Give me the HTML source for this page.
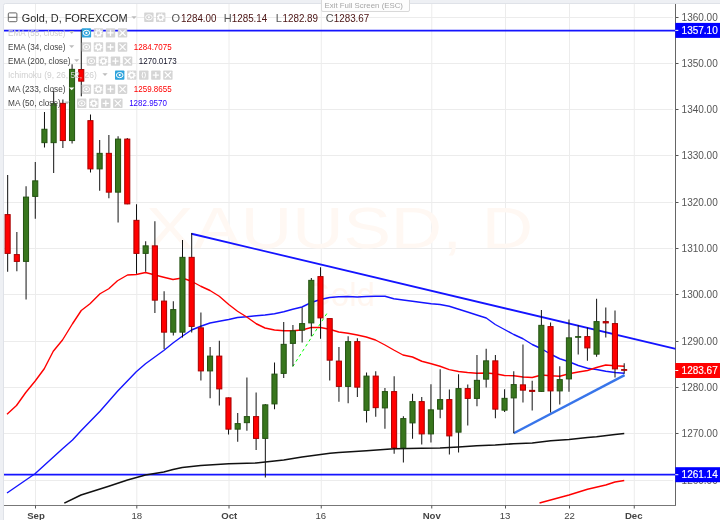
<!DOCTYPE html>
<html lang="en">
<head>
<meta charset="utf-8">
<title>Gold, D, FOREXCOM</title>
<style>
html,body{margin:0;padding:0;background:#fff;overflow:hidden}
body{width:720px;height:520px}
svg{display:block;font-family:"Liberation Sans",sans-serif}
</style>
</head>
<body>
<svg width="720" height="520" viewBox="0 0 720 520">
<rect x="0" y="0" width="720" height="520" fill="#eef0f4"/>
<rect x="3.5" y="3.5" width="720" height="520" rx="2" fill="#ffffff" stroke="#dfe2e8" stroke-width="1"/>
<line x1="35.5" y1="4" x2="35.5" y2="505" stroke="#ececec" stroke-width="1"/>
<line x1="136.8" y1="4" x2="136.8" y2="505" stroke="#ececec" stroke-width="1"/>
<line x1="229" y1="4" x2="229" y2="505" stroke="#ececec" stroke-width="1"/>
<line x1="321.25" y1="4" x2="321.25" y2="505" stroke="#ececec" stroke-width="1"/>
<line x1="431.75" y1="4" x2="431.75" y2="505" stroke="#ececec" stroke-width="1"/>
<line x1="505.5" y1="4" x2="505.5" y2="505" stroke="#ececec" stroke-width="1"/>
<line x1="569.5" y1="4" x2="569.5" y2="505" stroke="#ececec" stroke-width="1"/>
<line x1="634.25" y1="4" x2="634.25" y2="505" stroke="#ececec" stroke-width="1"/>
<line x1="4" y1="480.50" x2="673" y2="480.50" stroke="#ececec" stroke-width="1"/>
<line x1="4" y1="433.50" x2="673" y2="433.50" stroke="#ececec" stroke-width="1"/>
<line x1="4" y1="387.50" x2="673" y2="387.50" stroke="#ececec" stroke-width="1"/>
<line x1="4" y1="341.50" x2="673" y2="341.50" stroke="#ececec" stroke-width="1"/>
<line x1="4" y1="294.50" x2="673" y2="294.50" stroke="#ececec" stroke-width="1"/>
<line x1="4" y1="248.50" x2="673" y2="248.50" stroke="#ececec" stroke-width="1"/>
<line x1="4" y1="202.50" x2="673" y2="202.50" stroke="#ececec" stroke-width="1"/>
<line x1="4" y1="155.50" x2="673" y2="155.50" stroke="#ececec" stroke-width="1"/>
<line x1="4" y1="109.50" x2="673" y2="109.50" stroke="#ececec" stroke-width="1"/>
<line x1="4" y1="63.50" x2="673" y2="63.50" stroke="#ececec" stroke-width="1"/>
<line x1="4" y1="17.50" x2="673" y2="17.50" stroke="#ececec" stroke-width="1"/>
<text x="339.5" y="247.5" font-size="57" text-anchor="middle" textLength="387" lengthAdjust="spacingAndGlyphs" fill="#fff8f3">XAUUSD, D</text>
<text x="340" y="306" font-size="33" text-anchor="middle" fill="#fff6f0">Gold</text>
<line x1="675.5" y1="4" x2="675.5" y2="505.5" stroke="#666" stroke-width="1"/>
<line x1="4" y1="505.5" x2="676" y2="505.5" stroke="#777" stroke-width="1"/>
<line x1="35.5" y1="505.5" x2="35.5" y2="508.5" stroke="#555" stroke-width="1"/>
<line x1="136.8" y1="505.5" x2="136.8" y2="508.5" stroke="#555" stroke-width="1"/>
<line x1="229" y1="505.5" x2="229" y2="508.5" stroke="#555" stroke-width="1"/>
<line x1="321.25" y1="505.5" x2="321.25" y2="508.5" stroke="#555" stroke-width="1"/>
<line x1="431.75" y1="505.5" x2="431.75" y2="508.5" stroke="#555" stroke-width="1"/>
<line x1="505.5" y1="505.5" x2="505.5" y2="508.5" stroke="#555" stroke-width="1"/>
<line x1="569.5" y1="505.5" x2="569.5" y2="508.5" stroke="#555" stroke-width="1"/>
<line x1="634.25" y1="505.5" x2="634.25" y2="508.5" stroke="#555" stroke-width="1"/>
<g font-size="10" fill="#555">
<line x1="676" y1="480.50" x2="678.5" y2="480.50" stroke="#555" stroke-width="1"/>
<text x="681.6" y="484.10">1260.00</text>
<line x1="676" y1="433.50" x2="678.5" y2="433.50" stroke="#555" stroke-width="1"/>
<text x="681.6" y="437.10">1270.00</text>
<line x1="676" y1="387.50" x2="678.5" y2="387.50" stroke="#555" stroke-width="1"/>
<text x="681.6" y="391.10">1280.00</text>
<line x1="676" y1="341.50" x2="678.5" y2="341.50" stroke="#555" stroke-width="1"/>
<text x="681.6" y="345.10">1290.00</text>
<line x1="676" y1="294.50" x2="678.5" y2="294.50" stroke="#555" stroke-width="1"/>
<text x="681.6" y="298.10">1300.00</text>
<line x1="676" y1="248.50" x2="678.5" y2="248.50" stroke="#555" stroke-width="1"/>
<text x="681.6" y="252.10">1310.00</text>
<line x1="676" y1="202.50" x2="678.5" y2="202.50" stroke="#555" stroke-width="1"/>
<text x="681.6" y="206.10">1320.00</text>
<line x1="676" y1="155.50" x2="678.5" y2="155.50" stroke="#555" stroke-width="1"/>
<text x="681.6" y="159.10">1330.00</text>
<line x1="676" y1="109.50" x2="678.5" y2="109.50" stroke="#555" stroke-width="1"/>
<text x="681.6" y="113.10">1340.00</text>
<line x1="676" y1="63.50" x2="678.5" y2="63.50" stroke="#555" stroke-width="1"/>
<text x="681.6" y="67.10">1350.00</text>
<line x1="676" y1="17.50" x2="678.5" y2="17.50" stroke="#555" stroke-width="1"/>
<text x="681.6" y="21.10">1360.00</text>
</g>
<g font-size="9.6" fill="#444" text-anchor="middle">
<text x="36" y="518.8" font-weight="bold">Sep</text>
<text x="136.75" y="518.8">18</text>
<text x="229.25" y="518.8" font-weight="bold">Oct</text>
<text x="320.75" y="518.8">16</text>
<text x="431.75" y="518.8" font-weight="bold">Nov</text>
<text x="505" y="518.8">13</text>
<text x="569.5" y="518.8">22</text>
<text x="633.75" y="518.8" font-weight="bold">Dec</text>
</g>
<defs><clipPath id="plot"><rect x="4" y="4" width="671.5" height="501"/></clipPath></defs>
<g clip-path="url(#plot)">
<line x1="4" y1="30.6" x2="676" y2="30.6" stroke="#1414ff" stroke-width="1.6"/>
<line x1="4" y1="474.6" x2="676" y2="474.6" stroke="#1414ff" stroke-width="1.6"/>
<polyline points="7.00,493.00 35.00,473.75 62.50,448.75 72.50,440.00 81.25,430.50 100.00,411.25 117.50,391.25 136.25,371.75 145.50,363.75 163.75,350.50 173.00,343.00 182.25,336.25 191.50,330.00 200.75,326.25 210.00,323.00 219.25,321.25 228.75,319.50 237.50,317.50 246.75,316.75 256.25,315.75 265.00,315.00 274.50,313.75 283.75,311.75 292.75,309.25 302.00,307.00 311.25,302.50 320.50,299.50 329.50,297.50 338.75,296.75 348.00,296.50 357.25,297.00 366.25,296.50 375.50,296.25 385.00,296.25 393.75,298.75 403.00,300.00 412.50,301.25 421.75,302.50 431.25,303.75 440.00,304.50 449.25,306.25 458.75,309.25 467.50,312.00 476.75,315.00 486.25,318.00 495.25,324.50 504.50,329.50 513.75,334.50 523.00,338.75 532.25,344.50 541.50,348.75 550.75,354.25 559.75,358.75 569.00,361.75 578.25,365.50 587.50,368.25 596.50,369.50 605.75,371.25 615.00,372.50 624.25,373.25" fill="none" stroke="#1414ff" stroke-width="1.4" stroke-linejoin="round" />
<polyline points="7.00,414.25 16.50,405.50 25.75,392.50 35.00,381.25 44.25,368.75 53.25,351.25 62.50,340.00 72.50,323.75 81.25,310.50 90.00,303.75 100.00,293.75 108.75,288.75 117.50,280.75 127.50,275.00 136.25,274.50 145.50,272.50 155.00,275.00 163.75,277.25 173.00,279.50 182.25,278.00 191.50,281.25 200.75,286.25 210.00,290.50 219.25,296.25 228.75,304.50 237.50,311.25 246.75,317.00 256.25,323.75 265.00,328.00 274.50,330.00 283.75,330.75 292.75,330.75 302.00,330.00 311.25,327.50 320.50,327.50 329.50,329.25 338.75,332.00 348.00,333.25 357.25,335.00 366.25,337.00 375.50,340.00 385.00,345.00 393.75,350.00 403.00,355.00 412.50,357.00 421.75,361.25 431.25,363.75 440.00,366.25 449.25,369.60 458.50,371.50 467.50,372.50 476.75,373.25 486.25,373.00 495.25,373.75 504.50,375.50 513.75,375.75 523.00,377.00 532.25,377.50 541.50,375.00 550.75,375.75 559.75,376.25 569.00,373.75 578.25,372.00 587.50,370.50 596.50,367.50 605.75,365.00 615.00,365.75 624.25,366.25" fill="none" stroke="#ff0000" stroke-width="1.4" stroke-linejoin="round" />
<polyline points="64.30,503.10 81.00,495.00 108.75,486.25 127.50,480.00 145.50,475.00 163.75,472.00 173.00,469.50 182.25,467.50 200.75,465.50 228.75,463.75 256.00,463.00 265.25,462.00 283.75,460.00 302.00,457.00 330.00,453.25 338.75,452.50 366.50,450.75 394.00,448.75 421.50,448.25 440.00,448.00 458.50,447.00 476.75,445.75 495.25,445.00 513.75,443.75 532.25,443.00 550.75,440.75 569.00,439.50 587.50,437.50 596.50,436.75 615.00,434.50 624.25,433.50" fill="none" stroke="#111111" stroke-width="1.6" stroke-linejoin="round" />
<polyline points="539.50,503.00 559.75,497.50 569.00,495.00 587.50,489.25 605.75,485.00 615.00,482.00 624.25,480.50" fill="none" stroke="#ff0000" stroke-width="1.5" stroke-linejoin="round" />
<line x1="191.5" y1="233.75" x2="675.7" y2="348.9" stroke="#1414ff" stroke-width="1.8"/>
<line x1="513.75" y1="433.25" x2="624.6" y2="375.1" stroke="#3875ea" stroke-width="2.4"/>
<line x1="292.7" y1="366.6" x2="328.3" y2="311.25" stroke="#00ff00" stroke-width="1" stroke-dasharray="3,3"/>
<line x1="7.67" y1="175.00" x2="7.67" y2="271.75" stroke="#111" stroke-width="1"/>
<rect x="5.07" y="214.60" width="5.1" height="38.80" fill="#ff0000" stroke="#a80000" stroke-width="1"/>
<line x1="16.87" y1="232.00" x2="16.87" y2="271.25" stroke="#111" stroke-width="1"/>
<rect x="14.27" y="254.60" width="5.1" height="6.80" fill="#ff0000" stroke="#a80000" stroke-width="1"/>
<line x1="26.07" y1="186.25" x2="26.07" y2="299.50" stroke="#111" stroke-width="1"/>
<rect x="23.47" y="197.10" width="5.1" height="64.30" fill="#38761d" stroke="#245212" stroke-width="1"/>
<line x1="35.28" y1="162.00" x2="35.28" y2="218.75" stroke="#111" stroke-width="1"/>
<rect x="32.68" y="180.85" width="5.1" height="15.55" fill="#38761d" stroke="#245212" stroke-width="1"/>
<line x1="44.48" y1="112.00" x2="44.48" y2="147.50" stroke="#111" stroke-width="1"/>
<rect x="41.88" y="129.25" width="5.1" height="13.40" fill="#38761d" stroke="#245212" stroke-width="1"/>
<line x1="53.68" y1="91.00" x2="53.68" y2="173.00" stroke="#111" stroke-width="1"/>
<rect x="51.08" y="103.65" width="5.1" height="39.00" fill="#38761d" stroke="#245212" stroke-width="1"/>
<line x1="62.88" y1="99.50" x2="62.88" y2="148.00" stroke="#111" stroke-width="1"/>
<rect x="60.28" y="103.35" width="5.1" height="37.20" fill="#ff0000" stroke="#a80000" stroke-width="1"/>
<line x1="72.08" y1="64.30" x2="72.08" y2="143.50" stroke="#111" stroke-width="1"/>
<rect x="69.48" y="69.35" width="5.1" height="71.20" fill="#38761d" stroke="#245212" stroke-width="1"/>
<line x1="81.29" y1="29.50" x2="81.29" y2="96.30" stroke="#111" stroke-width="1"/>
<rect x="78.69" y="69.55" width="5.1" height="11.60" fill="#ff0000" stroke="#a80000" stroke-width="1"/>
<line x1="90.49" y1="114.50" x2="90.49" y2="172.50" stroke="#111" stroke-width="1"/>
<rect x="87.89" y="120.65" width="5.1" height="48.25" fill="#ff0000" stroke="#a80000" stroke-width="1"/>
<line x1="99.69" y1="140.00" x2="99.69" y2="190.75" stroke="#111" stroke-width="1"/>
<rect x="97.09" y="153.35" width="5.1" height="15.55" fill="#38761d" stroke="#245212" stroke-width="1"/>
<line x1="108.89" y1="135.00" x2="108.89" y2="198.25" stroke="#111" stroke-width="1"/>
<rect x="106.29" y="153.35" width="5.1" height="38.80" fill="#ff0000" stroke="#a80000" stroke-width="1"/>
<line x1="118.09" y1="136.25" x2="118.09" y2="222.50" stroke="#111" stroke-width="1"/>
<rect x="115.49" y="139.10" width="5.1" height="53.05" fill="#38761d" stroke="#245212" stroke-width="1"/>
<line x1="127.30" y1="138.00" x2="127.30" y2="204.25" stroke="#111" stroke-width="1"/>
<rect x="124.70" y="139.10" width="5.1" height="64.80" fill="#ff0000" stroke="#a80000" stroke-width="1"/>
<line x1="136.50" y1="204.25" x2="136.50" y2="273.75" stroke="#111" stroke-width="1"/>
<rect x="133.90" y="220.35" width="5.1" height="33.05" fill="#ff0000" stroke="#a80000" stroke-width="1"/>
<line x1="145.70" y1="241.25" x2="145.70" y2="271.75" stroke="#111" stroke-width="1"/>
<rect x="143.10" y="245.85" width="5.1" height="7.55" fill="#38761d" stroke="#245212" stroke-width="1"/>
<line x1="154.90" y1="221.25" x2="154.90" y2="313.00" stroke="#111" stroke-width="1"/>
<rect x="152.30" y="245.85" width="5.1" height="54.30" fill="#ff0000" stroke="#a80000" stroke-width="1"/>
<line x1="164.10" y1="291.25" x2="164.10" y2="349.00" stroke="#111" stroke-width="1"/>
<rect x="161.50" y="301.10" width="5.1" height="31.05" fill="#ff0000" stroke="#a80000" stroke-width="1"/>
<line x1="173.31" y1="301.25" x2="173.31" y2="335.50" stroke="#111" stroke-width="1"/>
<rect x="170.71" y="309.60" width="5.1" height="22.55" fill="#38761d" stroke="#245212" stroke-width="1"/>
<line x1="182.51" y1="240.00" x2="182.51" y2="337.50" stroke="#111" stroke-width="1"/>
<rect x="179.91" y="257.35" width="5.1" height="74.80" fill="#38761d" stroke="#245212" stroke-width="1"/>
<line x1="191.71" y1="233.00" x2="191.71" y2="332.50" stroke="#111" stroke-width="1"/>
<rect x="189.11" y="257.35" width="5.1" height="69.05" fill="#ff0000" stroke="#a80000" stroke-width="1"/>
<line x1="200.91" y1="312.50" x2="200.91" y2="380.50" stroke="#111" stroke-width="1"/>
<rect x="198.31" y="327.85" width="5.1" height="43.05" fill="#ff0000" stroke="#a80000" stroke-width="1"/>
<line x1="210.11" y1="347.00" x2="210.11" y2="398.25" stroke="#111" stroke-width="1"/>
<rect x="207.51" y="356.10" width="5.1" height="14.80" fill="#38761d" stroke="#245212" stroke-width="1"/>
<line x1="219.32" y1="340.75" x2="219.32" y2="405.50" stroke="#111" stroke-width="1"/>
<rect x="216.72" y="356.10" width="5.1" height="32.80" fill="#ff0000" stroke="#a80000" stroke-width="1"/>
<line x1="228.52" y1="397.50" x2="228.52" y2="434.50" stroke="#111" stroke-width="1"/>
<rect x="225.92" y="397.85" width="5.1" height="31.30" fill="#ff0000" stroke="#a80000" stroke-width="1"/>
<line x1="237.72" y1="413.00" x2="237.72" y2="441.75" stroke="#111" stroke-width="1"/>
<rect x="235.12" y="423.60" width="5.1" height="5.55" fill="#38761d" stroke="#245212" stroke-width="1"/>
<line x1="246.92" y1="377.50" x2="246.92" y2="430.75" stroke="#111" stroke-width="1"/>
<rect x="244.32" y="416.60" width="5.1" height="6.05" fill="#38761d" stroke="#245212" stroke-width="1"/>
<line x1="256.12" y1="392.50" x2="256.12" y2="450.00" stroke="#111" stroke-width="1"/>
<rect x="253.52" y="416.60" width="5.1" height="21.80" fill="#ff0000" stroke="#a80000" stroke-width="1"/>
<line x1="265.33" y1="404.00" x2="265.33" y2="477.50" stroke="#111" stroke-width="1"/>
<rect x="262.73" y="404.85" width="5.1" height="33.55" fill="#38761d" stroke="#245212" stroke-width="1"/>
<line x1="274.53" y1="362.50" x2="274.53" y2="409.25" stroke="#111" stroke-width="1"/>
<rect x="271.93" y="374.10" width="5.1" height="29.80" fill="#38761d" stroke="#245212" stroke-width="1"/>
<line x1="283.73" y1="322.00" x2="283.73" y2="378.00" stroke="#111" stroke-width="1"/>
<rect x="281.13" y="344.35" width="5.1" height="29.05" fill="#38761d" stroke="#245212" stroke-width="1"/>
<line x1="292.93" y1="325.00" x2="292.93" y2="366.25" stroke="#111" stroke-width="1"/>
<rect x="290.33" y="330.85" width="5.1" height="12.55" fill="#38761d" stroke="#245212" stroke-width="1"/>
<line x1="302.13" y1="307.50" x2="302.13" y2="342.50" stroke="#111" stroke-width="1"/>
<rect x="299.53" y="323.60" width="5.1" height="6.55" fill="#38761d" stroke="#245212" stroke-width="1"/>
<line x1="311.34" y1="278.00" x2="311.34" y2="336.25" stroke="#111" stroke-width="1"/>
<rect x="308.74" y="280.35" width="5.1" height="42.55" fill="#38761d" stroke="#245212" stroke-width="1"/>
<line x1="320.54" y1="267.25" x2="320.54" y2="338.75" stroke="#111" stroke-width="1"/>
<rect x="317.94" y="276.60" width="5.1" height="41.30" fill="#ff0000" stroke="#a80000" stroke-width="1"/>
<line x1="329.74" y1="318.25" x2="329.74" y2="380.50" stroke="#111" stroke-width="1"/>
<rect x="327.14" y="318.60" width="5.1" height="41.55" fill="#ff0000" stroke="#a80000" stroke-width="1"/>
<line x1="338.94" y1="347.00" x2="338.94" y2="401.75" stroke="#111" stroke-width="1"/>
<rect x="336.34" y="361.10" width="5.1" height="25.30" fill="#ff0000" stroke="#a80000" stroke-width="1"/>
<line x1="348.14" y1="336.25" x2="348.14" y2="403.25" stroke="#111" stroke-width="1"/>
<rect x="345.54" y="341.60" width="5.1" height="44.80" fill="#38761d" stroke="#245212" stroke-width="1"/>
<line x1="357.35" y1="338.25" x2="357.35" y2="397.00" stroke="#111" stroke-width="1"/>
<rect x="354.75" y="341.60" width="5.1" height="45.55" fill="#ff0000" stroke="#a80000" stroke-width="1"/>
<line x1="366.55" y1="372.50" x2="366.55" y2="422.50" stroke="#111" stroke-width="1"/>
<rect x="363.95" y="376.10" width="5.1" height="34.30" fill="#38761d" stroke="#245212" stroke-width="1"/>
<line x1="375.75" y1="371.25" x2="375.75" y2="416.75" stroke="#111" stroke-width="1"/>
<rect x="373.15" y="376.10" width="5.1" height="31.55" fill="#ff0000" stroke="#a80000" stroke-width="1"/>
<line x1="384.95" y1="388.00" x2="384.95" y2="428.75" stroke="#111" stroke-width="1"/>
<rect x="382.35" y="391.60" width="5.1" height="16.30" fill="#38761d" stroke="#245212" stroke-width="1"/>
<line x1="394.15" y1="376.25" x2="394.15" y2="453.75" stroke="#111" stroke-width="1"/>
<rect x="391.55" y="391.60" width="5.1" height="56.05" fill="#ff0000" stroke="#a80000" stroke-width="1"/>
<line x1="403.36" y1="416.25" x2="403.36" y2="462.50" stroke="#111" stroke-width="1"/>
<rect x="400.76" y="418.60" width="5.1" height="29.05" fill="#38761d" stroke="#245212" stroke-width="1"/>
<line x1="412.56" y1="393.75" x2="412.56" y2="438.75" stroke="#111" stroke-width="1"/>
<rect x="409.96" y="401.60" width="5.1" height="21.30" fill="#38761d" stroke="#245212" stroke-width="1"/>
<line x1="421.76" y1="397.00" x2="421.76" y2="444.50" stroke="#111" stroke-width="1"/>
<rect x="419.16" y="401.60" width="5.1" height="32.30" fill="#ff0000" stroke="#a80000" stroke-width="1"/>
<line x1="430.96" y1="384.25" x2="430.96" y2="442.50" stroke="#111" stroke-width="1"/>
<rect x="428.36" y="409.85" width="5.1" height="24.05" fill="#38761d" stroke="#245212" stroke-width="1"/>
<line x1="440.16" y1="369.25" x2="440.16" y2="418.25" stroke="#111" stroke-width="1"/>
<rect x="437.56" y="399.60" width="5.1" height="9.55" fill="#38761d" stroke="#245212" stroke-width="1"/>
<line x1="449.37" y1="389.50" x2="449.37" y2="454.50" stroke="#111" stroke-width="1"/>
<rect x="446.77" y="399.60" width="5.1" height="36.30" fill="#ff0000" stroke="#a80000" stroke-width="1"/>
<line x1="458.57" y1="374.25" x2="458.57" y2="452.50" stroke="#111" stroke-width="1"/>
<rect x="455.97" y="388.60" width="5.1" height="43.55" fill="#38761d" stroke="#245212" stroke-width="1"/>
<line x1="467.77" y1="384.50" x2="467.77" y2="425.50" stroke="#111" stroke-width="1"/>
<rect x="465.17" y="388.60" width="5.1" height="9.80" fill="#ff0000" stroke="#a80000" stroke-width="1"/>
<line x1="476.97" y1="355.00" x2="476.97" y2="406.25" stroke="#111" stroke-width="1"/>
<rect x="474.37" y="380.35" width="5.1" height="18.05" fill="#38761d" stroke="#245212" stroke-width="1"/>
<line x1="486.17" y1="348.75" x2="486.17" y2="387.50" stroke="#111" stroke-width="1"/>
<rect x="483.57" y="360.85" width="5.1" height="18.30" fill="#38761d" stroke="#245212" stroke-width="1"/>
<line x1="495.38" y1="355.00" x2="495.38" y2="418.25" stroke="#111" stroke-width="1"/>
<rect x="492.78" y="360.85" width="5.1" height="48.30" fill="#ff0000" stroke="#a80000" stroke-width="1"/>
<line x1="504.58" y1="389.25" x2="504.58" y2="412.00" stroke="#111" stroke-width="1"/>
<rect x="501.98" y="398.35" width="5.1" height="11.80" fill="#38761d" stroke="#245212" stroke-width="1"/>
<line x1="513.78" y1="371.25" x2="513.78" y2="433.25" stroke="#111" stroke-width="1"/>
<rect x="511.18" y="384.60" width="5.1" height="13.30" fill="#38761d" stroke="#245212" stroke-width="1"/>
<line x1="522.98" y1="344.50" x2="522.98" y2="402.50" stroke="#111" stroke-width="1"/>
<rect x="520.38" y="384.85" width="5.1" height="5.30" fill="#ff0000" stroke="#a80000" stroke-width="1"/>
<line x1="532.18" y1="380.75" x2="532.18" y2="410.50" stroke="#111" stroke-width="1"/>
<rect x="529.58" y="390.35" width="5.1" height="1.05" fill="#ff0000" stroke="#a80000" stroke-width="1"/>
<line x1="541.39" y1="310.00" x2="541.39" y2="392.00" stroke="#111" stroke-width="1"/>
<rect x="538.79" y="325.35" width="5.1" height="66.05" fill="#38761d" stroke="#245212" stroke-width="1"/>
<line x1="550.59" y1="322.50" x2="550.59" y2="412.50" stroke="#111" stroke-width="1"/>
<rect x="547.99" y="326.60" width="5.1" height="64.30" fill="#ff0000" stroke="#a80000" stroke-width="1"/>
<line x1="559.79" y1="366.25" x2="559.79" y2="404.50" stroke="#111" stroke-width="1"/>
<rect x="557.19" y="379.60" width="5.1" height="11.30" fill="#38761d" stroke="#245212" stroke-width="1"/>
<line x1="568.99" y1="319.50" x2="568.99" y2="391.75" stroke="#111" stroke-width="1"/>
<rect x="566.39" y="337.85" width="5.1" height="41.05" fill="#38761d" stroke="#245212" stroke-width="1"/>
<line x1="578.19" y1="325.00" x2="578.19" y2="354.50" stroke="#111" stroke-width="1"/>
<rect x="575.59" y="336.60" width="5.1" height="0.70" fill="#38761d" stroke="#245212" stroke-width="1"/>
<line x1="587.40" y1="327.50" x2="587.40" y2="360.75" stroke="#111" stroke-width="1"/>
<rect x="584.80" y="336.60" width="5.1" height="11.30" fill="#ff0000" stroke="#a80000" stroke-width="1"/>
<line x1="596.60" y1="298.75" x2="596.60" y2="356.75" stroke="#111" stroke-width="1"/>
<rect x="594.00" y="321.60" width="5.1" height="32.55" fill="#38761d" stroke="#245212" stroke-width="1"/>
<line x1="605.80" y1="307.50" x2="605.80" y2="337.50" stroke="#111" stroke-width="1"/>
<rect x="603.20" y="321.60" width="5.1" height="1.30" fill="#ff0000" stroke="#a80000" stroke-width="1"/>
<line x1="615.00" y1="310.50" x2="615.00" y2="377.50" stroke="#111" stroke-width="1"/>
<rect x="612.40" y="323.60" width="5.1" height="45.30" fill="#ff0000" stroke="#a80000" stroke-width="1"/>
<line x1="624.20" y1="363.25" x2="624.20" y2="373.75" stroke="#111" stroke-width="1"/>
<rect x="621.60" y="369.60" width="5.1" height="0.70" fill="#ff0000" stroke="#a80000" stroke-width="1"/>
</g>
<rect x="675.3" y="22.90" width="45" height="15" fill="#0000ff"/>
<line x1="675.3" y1="30.40" x2="678.3" y2="30.40" stroke="#fff" stroke-width="1"/>
<text x="681.6" y="34.00" font-size="10" fill="#fff" stroke="#fff" stroke-width="0.15">1357.10</text>
<rect x="675.3" y="467.20" width="45" height="15" fill="#0000ff"/>
<line x1="675.3" y1="474.70" x2="678.3" y2="474.70" stroke="#fff" stroke-width="1"/>
<text x="681.6" y="478.30" font-size="10" fill="#fff" stroke="#fff" stroke-width="0.15">1261.14</text>
<rect x="675.3" y="363.00" width="45" height="15" fill="#ff0000"/>
<line x1="675.3" y1="370.50" x2="678.3" y2="370.50" stroke="#fff" stroke-width="1"/>
<text x="681.6" y="374.10" font-size="10" fill="#fff" stroke="#fff" stroke-width="0.15">1283.67</text>
<rect x="8.3" y="12.9" width="8.6" height="8.8" rx="1" fill="none" stroke="#666" stroke-width="1"/>
<line x1="8.3" y1="17.3" x2="16.9" y2="17.3" stroke="#666" stroke-width="1"/>
<text x="21.7" y="21.7" font-size="11" fill="#2a2a2a" textLength="106" lengthAdjust="spacingAndGlyphs">Gold, D, FOREXCOM</text>
<path d="M131.40 16.30h5.2l-2.6 2.8z" fill="#bdbdbd"/>
<g transform="translate(144.20,12.60)" opacity="0.95"><rect x="0" y="0" width="9.4" height="9.4" rx="0.8" fill="#d3d3d3"/><ellipse cx="4.7" cy="4.7" rx="3.3" ry="2.6" fill="none" stroke="#fff" stroke-width="1"/><circle cx="4.7" cy="4.7" r="1.1" fill="#fff"/></g>
<g transform="translate(156.00,12.60)" opacity="0.95"><rect x="0" y="0" width="9.4" height="9.4" rx="0.8" fill="#d3d3d3"/><circle cx="4.7" cy="4.7" r="2.4" fill="none" stroke="#fff" stroke-width="1.5"/><circle cx="4.7" cy="4.7" r="3.4" fill="none" stroke="#fff" stroke-width="1.2" stroke-dasharray="1.3,1.37"/></g>
<text x="171.5" y="21.7" font-size="11" fill="#555">O</text>
<text x="181" y="21.7" font-size="11" fill="#4a1212" textLength="35.5" lengthAdjust="spacingAndGlyphs">1284.00</text>
<text x="223.75" y="21.7" font-size="11" fill="#555">H</text>
<text x="231.75" y="21.7" font-size="11" fill="#4a1212" textLength="35.5" lengthAdjust="spacingAndGlyphs">1285.14</text>
<text x="275.75" y="21.7" font-size="11" fill="#555">L</text>
<text x="282.5" y="21.7" font-size="11" fill="#4a1212" textLength="35.5" lengthAdjust="spacingAndGlyphs">1282.89</text>
<text x="325.75" y="21.7" font-size="11" fill="#555">C</text>
<text x="333.75" y="21.7" font-size="11" fill="#4a1212" textLength="35.5" lengthAdjust="spacingAndGlyphs">1283.67</text>
<rect x="321.5" y="-2" width="88" height="13.5" rx="1.5" fill="#fdfdfd" stroke="#d9d9d9" stroke-width="1"/>
<text x="324.5" y="8.4" font-size="7.8" fill="#a6a6a6" textLength="78.5" lengthAdjust="spacingAndGlyphs">Exit Full Screen (ESC)</text>
<text x="8" y="35.6" font-size="8.6" fill="#cfcfcf" textLength="57.5" lengthAdjust="spacingAndGlyphs">EMA (55, close)</text>
<path d="M69.10 31.10h5.2l-2.6 2.8z" fill="#bdbdbd"/>
<g transform="translate(81.70,28.20)" opacity="1"><rect x="0" y="0" width="9.4" height="9.4" rx="0.8" fill="#2ea3dc"/><ellipse cx="4.7" cy="4.7" rx="3.3" ry="2.6" fill="none" stroke="#fff" stroke-width="1"/><circle cx="4.7" cy="4.7" r="1.1" fill="#fff"/></g>
<g transform="translate(93.75,28.20)" opacity="0.95"><rect x="0" y="0" width="9.4" height="9.4" rx="0.8" fill="#d3d3d3"/><circle cx="4.7" cy="4.7" r="2.4" fill="none" stroke="#fff" stroke-width="1.5"/><circle cx="4.7" cy="4.7" r="3.4" fill="none" stroke="#fff" stroke-width="1.2" stroke-dasharray="1.3,1.37"/></g>
<g transform="translate(105.80,28.20)" opacity="0.95"><rect x="0" y="0" width="9.4" height="9.4" rx="0.8" fill="#d3d3d3"/><path d="M4.7 1.6V7.800000000000001M1.6 4.7H7.800000000000001" stroke="#fff" stroke-width="1.3" fill="none"/></g>
<g transform="translate(117.85,28.20)" opacity="0.95"><rect x="0" y="0" width="9.4" height="9.4" rx="0.8" fill="#d3d3d3"/><path d="M1.6 1.6L7.800000000000001 7.800000000000001M7.800000000000001 1.6L1.6 7.800000000000001" stroke="#fff" stroke-width="1.2" fill="none"/></g>
<text x="8" y="49.7" font-size="8.6" fill="#444444" textLength="57.5" lengthAdjust="spacingAndGlyphs">EMA (34, close)</text>
<path d="M69.10 45.20h5.2l-2.6 2.8z" fill="#bdbdbd"/>
<g transform="translate(81.70,42.30)" opacity="0.95"><rect x="0" y="0" width="9.4" height="9.4" rx="0.8" fill="#d3d3d3"/><ellipse cx="4.7" cy="4.7" rx="3.3" ry="2.6" fill="none" stroke="#fff" stroke-width="1"/><circle cx="4.7" cy="4.7" r="1.1" fill="#fff"/></g>
<g transform="translate(93.75,42.30)" opacity="0.95"><rect x="0" y="0" width="9.4" height="9.4" rx="0.8" fill="#d3d3d3"/><circle cx="4.7" cy="4.7" r="2.4" fill="none" stroke="#fff" stroke-width="1.5"/><circle cx="4.7" cy="4.7" r="3.4" fill="none" stroke="#fff" stroke-width="1.2" stroke-dasharray="1.3,1.37"/></g>
<g transform="translate(105.80,42.30)" opacity="0.95"><rect x="0" y="0" width="9.4" height="9.4" rx="0.8" fill="#d3d3d3"/><path d="M4.7 1.6V7.800000000000001M1.6 4.7H7.800000000000001" stroke="#fff" stroke-width="1.3" fill="none"/></g>
<g transform="translate(117.85,42.30)" opacity="0.95"><rect x="0" y="0" width="9.4" height="9.4" rx="0.8" fill="#d3d3d3"/><path d="M1.6 1.6L7.800000000000001 7.800000000000001M7.800000000000001 1.6L1.6 7.800000000000001" stroke="#fff" stroke-width="1.2" fill="none"/></g>
<text x="133.85" y="49.7" font-size="8.6" fill="#ff0000" textLength="37.8" lengthAdjust="spacingAndGlyphs">1284.7075</text>
<text x="8" y="63.8" font-size="8.6" fill="#444444" textLength="62.5" lengthAdjust="spacingAndGlyphs">EMA (200, close)</text>
<path d="M74.10 59.30h5.2l-2.6 2.8z" fill="#bdbdbd"/>
<g transform="translate(86.70,56.40)" opacity="0.95"><rect x="0" y="0" width="9.4" height="9.4" rx="0.8" fill="#d3d3d3"/><ellipse cx="4.7" cy="4.7" rx="3.3" ry="2.6" fill="none" stroke="#fff" stroke-width="1"/><circle cx="4.7" cy="4.7" r="1.1" fill="#fff"/></g>
<g transform="translate(98.75,56.40)" opacity="0.95"><rect x="0" y="0" width="9.4" height="9.4" rx="0.8" fill="#d3d3d3"/><circle cx="4.7" cy="4.7" r="2.4" fill="none" stroke="#fff" stroke-width="1.5"/><circle cx="4.7" cy="4.7" r="3.4" fill="none" stroke="#fff" stroke-width="1.2" stroke-dasharray="1.3,1.37"/></g>
<g transform="translate(110.80,56.40)" opacity="0.95"><rect x="0" y="0" width="9.4" height="9.4" rx="0.8" fill="#d3d3d3"/><path d="M4.7 1.6V7.800000000000001M1.6 4.7H7.800000000000001" stroke="#fff" stroke-width="1.3" fill="none"/></g>
<g transform="translate(122.85,56.40)" opacity="0.95"><rect x="0" y="0" width="9.4" height="9.4" rx="0.8" fill="#d3d3d3"/><path d="M1.6 1.6L7.800000000000001 7.800000000000001M7.800000000000001 1.6L1.6 7.800000000000001" stroke="#fff" stroke-width="1.2" fill="none"/></g>
<text x="138.85" y="63.8" font-size="8.6" fill="#15152a" textLength="37.8" lengthAdjust="spacingAndGlyphs">1270.0173</text>
<text x="8" y="77.8" font-size="8.6" fill="#cfcfcf" textLength="88.7" lengthAdjust="spacingAndGlyphs">Ichimoku (9, 26, 52, 26)</text>
<path d="M102.40 73.30h5.2l-2.6 2.8z" fill="#bdbdbd"/>
<g transform="translate(115.00,70.40)" opacity="1"><rect x="0" y="0" width="9.4" height="9.4" rx="0.8" fill="#2ea3dc"/><ellipse cx="4.7" cy="4.7" rx="3.3" ry="2.6" fill="none" stroke="#fff" stroke-width="1"/><circle cx="4.7" cy="4.7" r="1.1" fill="#fff"/></g>
<g transform="translate(127.05,70.40)" opacity="0.95"><rect x="0" y="0" width="9.4" height="9.4" rx="0.8" fill="#d3d3d3"/><circle cx="4.7" cy="4.7" r="2.4" fill="none" stroke="#fff" stroke-width="1.5"/><circle cx="4.7" cy="4.7" r="3.4" fill="none" stroke="#fff" stroke-width="1.2" stroke-dasharray="1.3,1.37"/></g>
<g transform="translate(139.10,70.40)" opacity="0.95"><rect x="0" y="0" width="9.4" height="9.4" rx="0.8" fill="#d3d3d3"/><path d="M3.9 1.6Q2 4.7 3.9 7.800000000000001M5.5 1.6Q7.4 4.7 5.5 7.800000000000001" stroke="#fff" stroke-width="1" fill="none"/></g>
<g transform="translate(151.15,70.40)" opacity="0.95"><rect x="0" y="0" width="9.4" height="9.4" rx="0.8" fill="#d3d3d3"/><path d="M4.7 1.6V7.800000000000001M1.6 4.7H7.800000000000001" stroke="#fff" stroke-width="1.3" fill="none"/></g>
<g transform="translate(163.20,70.40)" opacity="0.95"><rect x="0" y="0" width="9.4" height="9.4" rx="0.8" fill="#d3d3d3"/><path d="M1.6 1.6L7.800000000000001 7.800000000000001M7.800000000000001 1.6L1.6 7.800000000000001" stroke="#fff" stroke-width="1.2" fill="none"/></g>
<text x="8" y="91.9" font-size="8.6" fill="#444444" textLength="57.5" lengthAdjust="spacingAndGlyphs">MA (233, close)</text>
<path d="M69.10 87.40h5.2l-2.6 2.8z" fill="#ffffff"/>
<g transform="translate(81.70,84.50)" opacity="0.95"><rect x="0" y="0" width="9.4" height="9.4" rx="0.8" fill="#d3d3d3"/><ellipse cx="4.7" cy="4.7" rx="3.3" ry="2.6" fill="none" stroke="#fff" stroke-width="1"/><circle cx="4.7" cy="4.7" r="1.1" fill="#fff"/></g>
<g transform="translate(93.75,84.50)" opacity="0.95"><rect x="0" y="0" width="9.4" height="9.4" rx="0.8" fill="#d3d3d3"/><circle cx="4.7" cy="4.7" r="2.4" fill="none" stroke="#fff" stroke-width="1.5"/><circle cx="4.7" cy="4.7" r="3.4" fill="none" stroke="#fff" stroke-width="1.2" stroke-dasharray="1.3,1.37"/></g>
<g transform="translate(105.80,84.50)" opacity="0.95"><rect x="0" y="0" width="9.4" height="9.4" rx="0.8" fill="#d3d3d3"/><path d="M4.7 1.6V7.800000000000001M1.6 4.7H7.800000000000001" stroke="#fff" stroke-width="1.3" fill="none"/></g>
<g transform="translate(117.85,84.50)" opacity="0.95"><rect x="0" y="0" width="9.4" height="9.4" rx="0.8" fill="#d3d3d3"/><path d="M1.6 1.6L7.800000000000001 7.800000000000001M7.800000000000001 1.6L1.6 7.800000000000001" stroke="#fff" stroke-width="1.2" fill="none"/></g>
<text x="133.85" y="91.9" font-size="8.6" fill="#ff0000" textLength="37.8" lengthAdjust="spacingAndGlyphs">1259.8655</text>
<text x="8" y="106.0" font-size="8.6" fill="#444444" textLength="52.8" lengthAdjust="spacingAndGlyphs">MA (50, close)</text>
<path d="M64.40 101.50h5.2l-2.6 2.8z" fill="#bdbdbd"/>
<g transform="translate(77.00,98.60)" opacity="0.95"><rect x="0" y="0" width="9.4" height="9.4" rx="0.8" fill="#d3d3d3"/><ellipse cx="4.7" cy="4.7" rx="3.3" ry="2.6" fill="none" stroke="#fff" stroke-width="1"/><circle cx="4.7" cy="4.7" r="1.1" fill="#fff"/></g>
<g transform="translate(89.05,98.60)" opacity="0.95"><rect x="0" y="0" width="9.4" height="9.4" rx="0.8" fill="#d3d3d3"/><circle cx="4.7" cy="4.7" r="2.4" fill="none" stroke="#fff" stroke-width="1.5"/><circle cx="4.7" cy="4.7" r="3.4" fill="none" stroke="#fff" stroke-width="1.2" stroke-dasharray="1.3,1.37"/></g>
<g transform="translate(101.10,98.60)" opacity="0.95"><rect x="0" y="0" width="9.4" height="9.4" rx="0.8" fill="#d3d3d3"/><path d="M4.7 1.6V7.800000000000001M1.6 4.7H7.800000000000001" stroke="#fff" stroke-width="1.3" fill="none"/></g>
<g transform="translate(113.15,98.60)" opacity="0.95"><rect x="0" y="0" width="9.4" height="9.4" rx="0.8" fill="#d3d3d3"/><path d="M1.6 1.6L7.800000000000001 7.800000000000001M7.800000000000001 1.6L1.6 7.800000000000001" stroke="#fff" stroke-width="1.2" fill="none"/></g>
<text x="129.15" y="106.0" font-size="8.6" fill="#2a00ff" textLength="37.8" lengthAdjust="spacingAndGlyphs">1282.9570</text>
</svg>
</body>
</html>
